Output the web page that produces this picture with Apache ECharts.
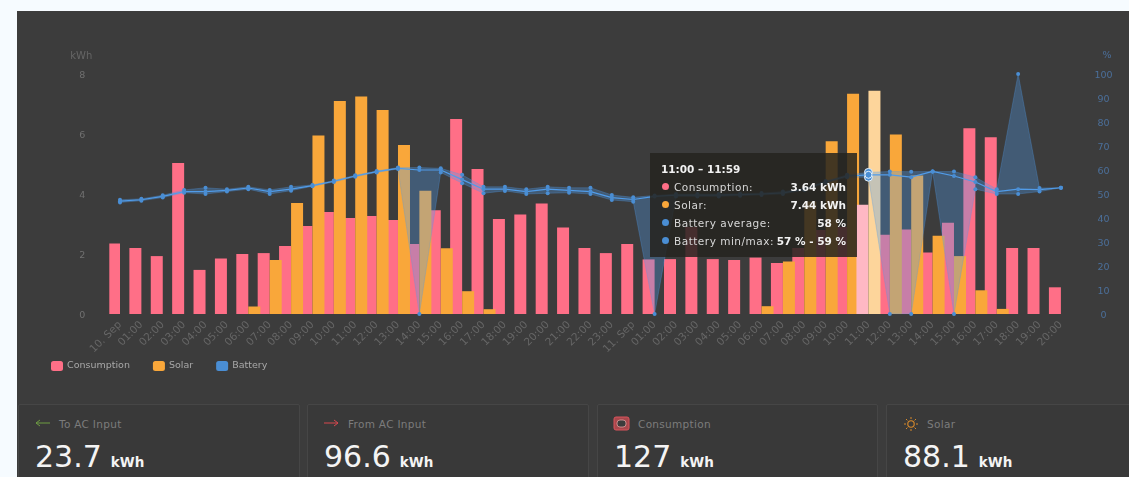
<!DOCTYPE html>
<html>
<head>
<meta charset="utf-8">
<title>Energy</title>
<style>
  html, body { margin: 0; padding: 0; width: 1129px; height: 477px; overflow: hidden; background: #f6fbff; font-family: 'DejaVu Sans', sans-serif; }
  .panel { position: absolute; left: 17px; top: 11px; width: 1112px; height: 466px; background: #3c3c3c; }
  #chart { position: absolute; left: 0; top: 0; width: 1129px; height: 400px; }
  .card { position: absolute; top: 404px; height: 80px; box-sizing: border-box; background: #393939; border: 1px solid #464646; border-radius: 2px; }
  .card svg { position: absolute; left: 15px; top: 11px; }
  .card .title { position: absolute; left: 40px; top: 12px; font-size: 10.5px; letter-spacing: .3px; line-height: 14px; color: #7c7c7c; white-space: nowrap; }
  .card .value { position: absolute; left: 16px; top: 34px; font-size: 30px; line-height: 36px; color: #f4f4f4; white-space: nowrap; }
  .card .unit { font-size: 13.5px; font-weight: bold; margin-left: 9px; }
</style>
</head>
<body>
<div class="panel"></div>
<div id="chart"></div>
<div id="cards"></div>
<script src="https://cdn.jsdelivr.net/npm/echarts@6/dist/echarts.min.js"></script>
<script>
let categories = ['10. Sep', '01:00', '02:00', '03:00', '04:00', '05:00', '06:00', '07:00', '08:00', '09:00', '10:00', '11:00',
  '12:00', '13:00', '14:00', '15:00', '16:00', '17:00', '18:00', '19:00', '20:00', '21:00', '22:00', '23:00',
  '11. Sep', '01:00', '02:00', '03:00', '04:00', '05:00', '06:00', '07:00', '08:00', '09:00', '10:00', '11:00',
  '12:00', '13:00', '14:00', '15:00', '16:00', '17:00', '18:00', '19:00', '20:00']

let consumption = [2.35, 2.2, 1.93, 5.03, 1.47, 1.85, 2.0, 2.03, 2.27, 2.93, 3.4, 3.2,
  3.27, 3.13, 2.33, 3.46, 6.5, 4.83, 3.17, 3.32, 3.68, 2.88, 2.2, 2.03,
  2.33, 1.82, 1.83, 2.9, 1.83, 1.8, 1.88, 1.7, 2.2, 2.8, 2.9, 3.64,
  2.64, 2.82, 2.05, 3.04, 6.19, 5.89, 2.2, 2.2, 0.89]

let solar = [0, 0, 0, 0, 0, 0, 0.25, 1.8, 3.7, 5.95, 7.1, 7.25,
  6.8, 5.63, 4.11, 2.19, 0.76, 0.16, 0, 0, 0, 0, 0, 0,
  0, 0, 0, 0, 0, 0, 0.26, 1.75, 3.75, 5.76, 7.34, 7.44,
  5.98, 4.62, 2.61, 1.93, 0.79, 0.17, 0, 0, 0]

let batteryAvg = [47, 47.6, 49, 51, 51, 51.5, 52.5, 51, 52, 53.5, 55.3, 57.5,
  59.3, 60.7, 60, 60, 56, 52, 52, 51, 52, 51.5, 51, 48.5,
  47.7, 49, 49.5, 49.5, 49.5, 49.7, 50, 50.5, 52, 55, 57.5, 58,
  58, 57, 59.4, 57.5, 55, 51, 52, 51.8, 52.6]

let batteryMin = [46.5, 47.2, 48.5, 50.5, 50, 51, 52, 50, 51.4, 53.2, 55, 57.2,
  59, 60.4, 0, 59, 54.5, 50.3, 51.3, 50, 50.3, 50.5, 50, 47.5,
  46.8, 0, 49, 49, 49, 49.3, 49.6, 50, 51.6, 54.6, 57, 57,
  0, 0, 59.4, 0, 52, 50, 50, 51, 52.6]

let batteryMax = [47.6, 48, 49.5, 51.7, 52.6, 52, 53, 51.7, 53, 53.8, 55.6, 57.8,
  59.6, 61, 61, 60.7, 58, 53, 53, 52, 53, 52.6, 52.6, 49.6,
  48.6, 49.4, 50, 50, 50, 50.1, 50.4, 51, 52.4, 55.4, 58, 59,
  59.4, 59.3, 59.4, 59.4, 57, 52, 100, 52.5, 52.6]

let cards = [
  { title: 'To AC Input', value: '23.7', unit: 'kWh', left: 18, width: 282, icon: 'in' },
  { title: 'From AC Input', value: '96.6', unit: 'kWh', left: 307, width: 282, icon: 'out' },
  { title: 'Consumption', value: '127', unit: 'kWh', left: 597, width: 281, icon: 'socket' },
  { title: 'Solar', value: '88.1', unit: 'kWh', left: 886, width: 260, icon: 'sun' }
]

let icons = {
  in: '<svg width="18" height="14"><path d="M16 7H2M6 4 2 7l4 3" fill="none" stroke="#6f9e43" stroke-width="1"/></svg>',
  out: '<svg width="18" height="14"><path d="M1 7h14M11 4l4 3-4 3" fill="none" stroke="#d8484f" stroke-width="1"/></svg>',
  socket: '<svg width="18" height="16"><rect x="1" y="1" width="15" height="13" rx="2" fill="#a8474c" stroke="#d9545c"/><rect x="4" y="4" width="9" height="7" rx="3" fill="#3c3c3c" stroke="#e0a0a0" stroke-width=".8"/></svg>',
  sun: '<svg width="18" height="16"><circle cx="9" cy="8" r="3.2" fill="none" stroke="#d98a2b" stroke-width="1.1"/><path d="M9 1v2M9 13v2M2 8h2M14 8h2M4 3l1.4 1.4M14 3l-1.4 1.4M4 13l1.4-1.4M14 13l-1.4-1.4" stroke="#d98a2b"/></svg>'
}

const COLORS = { consumption: '#ff6f87', solar: '#f9a73a', battery: '#4a8ed4' }
const HOVER_INDEX = 35
const FONT = "'DejaVu Sans', sans-serif"

function bullet(color) {
  return '<span style="position:absolute;left:12px;margin-top:5px;width:7px;height:7px;border-radius:50%;background:' + color + '"></span>'
}

function tooltipRow(color, label, value) {
  return '<div style="height:18px;line-height:18px;padding-left:24px;position:relative;white-space:nowrap;letter-spacing:.5px">' + bullet(color) +
    label + '<span style="position:absolute;right:11px;font-weight:bold;letter-spacing:0;color:#f2f2f2">' + value + '</span></div>'
}

function tooltipHtml() {
  let i = HOVER_INDEX
  return '<div style="font-weight:bold;height:18px;line-height:18px;padding-left:11px;margin-bottom:0;color:#f2f2f2">11:00 – 11:59</div>' +
    tooltipRow(COLORS.consumption, 'Consumption:', consumption[i].toFixed(2) + ' kWh') +
    tooltipRow(COLORS.solar, 'Solar:', solar[i].toFixed(2) + ' kWh') +
    tooltipRow(COLORS.battery, 'Battery average:', Math.round(batteryAvg[i]) + ' %') +
    tooltipRow(COLORS.battery, 'Battery min/max:', Math.round(batteryMin[i]) + ' % - ' + Math.round(batteryMax[i]) + ' %')
}

function bandSeries(name, data, withArea) {
  return {
    name: name,
    type: 'line',
    yAxisIndex: 1,
    stack: 'band',
    data: data,
    symbol: 'circle',
    symbolSize: 4,
    showAllSymbol: true,
    lineStyle: { color: COLORS.battery, width: 0.6, opacity: 0.5 },
    itemStyle: { color: COLORS.battery },
    areaStyle: withArea ? { color: 'rgba(74,144,217,0.32)', opacity: 1 } : undefined,
    emphasis: { scale: 2, itemStyle: { color: COLORS.battery, borderColor: '#e8f2fb', borderWidth: 1 }, lineStyle: { width: 0.6 } },
    z: 3
  }
}

let chart = echarts.init(document.getElementById('chart'))

chart.setOption({
  animation: false,
  textStyle: { fontFamily: FONT },
  grid: { left: 109.3, right: 57.4, top: 74, height: 240, containLabel: false },
  tooltip: {
    trigger: 'axis',
    alwaysShowContent: true,
    transitionDuration: 0,
    axisPointer: { type: 'none' },
    backgroundColor: 'rgba(36,35,31,0.85)',
    borderWidth: 0,
    padding: [7, 0, 7, 0],
    extraCssText: 'box-shadow:none;border-radius:0;width:207px;height:90px;box-sizing:content-box;',
    textStyle: { color: '#d8d8d8', fontSize: 10.5, fontFamily: FONT },
    position: function () { return [650, 153] },
    formatter: tooltipHtml
  },
  legend: {
    left: 51,
    top: 361,
    padding: 0,
    itemWidth: 12,
    itemHeight: 10,
    itemGap: 23,
    icon: 'roundRect',
    textStyle: { color: '#a8a8a8', fontSize: 9.5, padding: [0, 0, 0, -1] },
    data: ['Consumption', 'Solar', 'Battery'],
    selectedMode: false
  },
  xAxis: {
    type: 'category',
    data: categories,
    boundaryGap: true,
    axisLine: { show: false },
    axisTick: { alignWithLabel: true, length: 8, lineStyle: { color: '#a9a9a9' } },
    axisLabel: { interval: 0, rotate: 45, margin: 9, color: '#666666', fontSize: 10.5, hideOverlap: false }
  },
  yAxis: [
    {
      type: 'value',
      min: 0,
      max: 8,
      interval: 2,
      name: 'kWh',
      nameLocation: 'end',
      nameGap: 13,
      nameMoveOverlap: false,
      nameTextStyle: { color: '#666666', fontSize: 10, align: 'center', padding: [0, 56, 0, 0] },
      splitLine: { show: false },
      axisLine: { show: false },
      axisTick: { show: false },
      axisLabel: { color: '#707070', fontSize: 9.5, margin: 27, align: 'center', verticalAlign: 'top', lineHeight: 4 }
    },
    {
      type: 'value',
      min: 0,
      max: 100,
      interval: 10,
      name: '%',
      nameLocation: 'end',
      nameGap: 13,
      nameMoveOverlap: false,
      nameTextStyle: { color: '#4b6f9a', fontSize: 9.5, align: 'center', padding: [0, 0, 0, 71] },
      splitLine: { show: false },
      axisLine: { show: false },
      axisTick: { show: false },
      axisLabel: { color: '#4b6f9a', fontSize: 9.5, margin: 32, align: 'center', verticalAlign: 'top', lineHeight: 4 }
    }
  ],
  series: [
    {
      name: 'Consumption',
      type: 'bar',
      data: consumption,
      barWidth: 12,
      barGap: 0,
      itemStyle: { color: COLORS.consumption },
      emphasis: { itemStyle: { color: '#ffb8c4' } }
    },
    {
      name: 'Solar',
      type: 'bar',
      data: solar,
      barWidth: 12,
      barGap: 0,
      itemStyle: { color: COLORS.solar },
      emphasis: { itemStyle: { color: '#fdd59b' } }
    },
    bandSeries('Battery min', batteryMin, false),
    bandSeries('Battery range', batteryMax.map((v, i) => v - batteryMin[i]), true),
    {
      name: 'Battery',
      type: 'line',
      yAxisIndex: 1,
      data: batteryAvg,
      symbol: 'circle',
      symbolSize: 4,
      showAllSymbol: true,
      lineStyle: { color: COLORS.battery, width: 1.2 },
      itemStyle: { color: COLORS.battery },
      emphasis: { scale: 1.75, itemStyle: { color: COLORS.battery, borderColor: '#e8f2fb', borderWidth: 1 }, lineStyle: { width: 1.2 } },
      z: 4
    }
  ]
})

chart.dispatchAction({ type: 'showTip', seriesIndex: 0, dataIndex: HOVER_INDEX })

document.getElementById('cards').innerHTML = cards.map(c =>
  '<div class="card" style="left:' + c.left + 'px;width:' + c.width + 'px">' + icons[c.icon] +
  '<div class="title">' + c.title + '</div>' +
  '<div class="value">' + c.value + '<span class="unit">' + c.unit + '</span></div></div>'
).join('')
</script>
</body>
</html>
